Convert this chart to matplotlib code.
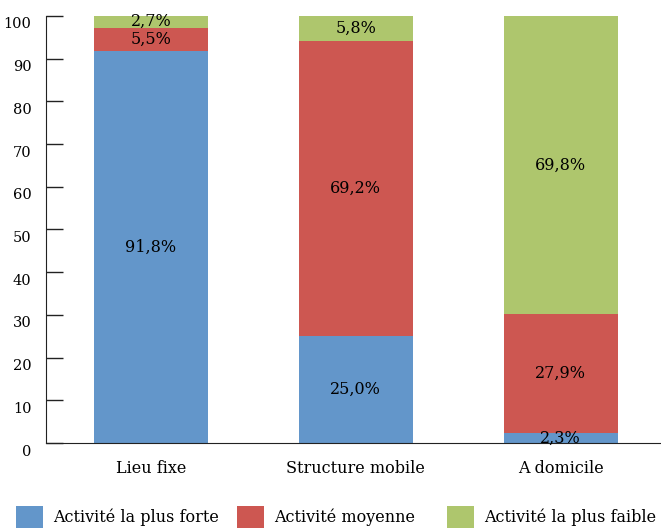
import matplotlib.pyplot as plt
import matplotlib.transforms as mtransforms
from matplotlib.patches import Patch

categories = ['Lieu fixe', 'Structure mobile', 'A domicile']
forte = [91.8, 25.0, 2.3]
moyenne = [5.5, 69.2, 27.9]
faible = [2.7, 5.8, 69.8]
series_names = ['Activité la plus forte', 'Activité moyenne', 'Activité la plus faible']
colors = ['#6396CA', '#CD5751', '#AEC66D']

plt.rcParams['font.family'] = ['DejaVu Serif']
fs = 11.5

fig = plt.figure(figsize=(6.61, 5.28), dpi=100)
ax = fig.add_axes([45.5 / 661, 85 / 528, (661 - 45.5) / 661, 427 / 528])

x = list(range(len(categories)))
width = 0.557
bottoms = [0, 0, 0]
for vals, name, col in zip([forte, moyenne, faible], series_names, colors):
    ax.bar(x, vals, width, bottom=bottoms, color=col, label=name, zorder=2)
    for xi, v, b in zip(x, vals, bottoms):
        ax.text(xi, b + v / 2, f"{v:.1f}%".replace('.', ','), ha='center', va='center',
                fontsize=fs, color='black', zorder=3)
    bottoms = [b + v for b, v in zip(bottoms, vals)]

ax.set_xlim(-0.514, 2.49)
ax.set_ylim(0, 100)
ax.set_yticks(range(0, 101, 10))
ax.set_xticks(x)
ax.set_xticklabels(categories, fontsize=fs)

for s in ['top', 'right']:
    ax.spines[s].set_visible(False)
ax.spines['left'].set_color('#222222')
ax.spines['bottom'].set_color('#222222')

ax.tick_params(axis='y', direction='in', length=12, width=1, color='#222222',
               labelsize=fs - 1, pad=10)
ax.tick_params(axis='x', length=0, pad=12)

# labels sit a bit below the ticks in the reference
offset = mtransforms.ScaledTranslation(0, -7 / 100, fig.dpi_scale_trans)
for lbl in ax.get_yticklabels():
    lbl.set_transform(lbl.get_transform() + offset)

# one legend entry per position, like the reference layout
legend_x = [16, 237, 447]
for name, col, lx in zip(series_names, colors, legend_x):
    leg = fig.legend(handles=[Patch(facecolor=col, label=name)], loc='center left',
                     bbox_to_anchor=(lx / 661, 1 - 517 / 528), frameon=False, fontsize=fs,
                     handlelength=1.69, handleheight=1.69, handletextpad=0.63,
                     borderpad=0, borderaxespad=0)

fig.savefig('out.png', dpi=100)
